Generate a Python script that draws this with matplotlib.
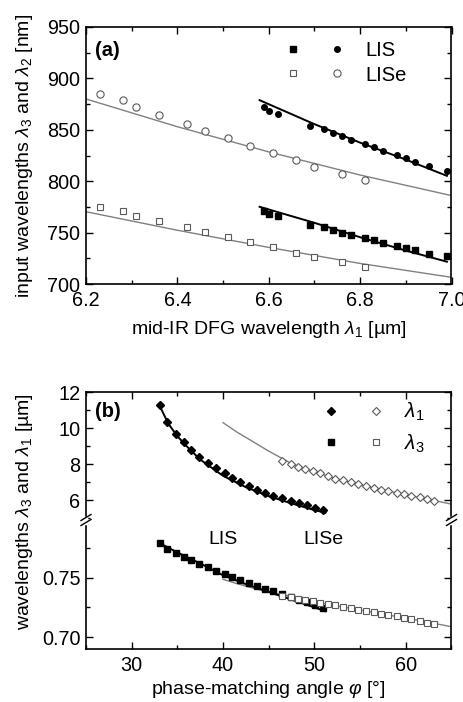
import numpy as np
import matplotlib
matplotlib.use("Agg")
import matplotlib.pyplot as plt
from matplotlib.ticker import MultipleLocator
from matplotlib.legend_handler import HandlerTuple
from matplotlib.lines import Line2D

plt.rcParams['font.family'] = ['Liberation Sans', 'DejaVu Sans']
plt.rcParams['mathtext.fontset'] = 'custom'
plt.rcParams['mathtext.rm'] = 'Liberation Sans'
plt.rcParams['mathtext.it'] = 'Liberation Sans:italic'
plt.rcParams['mathtext.bf'] = 'Liberation Sans:bold'

# ---- panel (a): input wavelengths vs mid-IR DFG wavelength ----
lis_x = [6.59, 6.60, 6.62, 6.69, 6.72, 6.74, 6.76, 6.78, 6.81, 6.83, 6.85,
         6.88, 6.90, 6.92, 6.95, 6.99]
lis_l2 = [872.0, 868.7, 865.5, 854.1, 850.3, 847.0, 843.5, 839.9, 836.0,
          833.1, 829.5, 825.6, 822.1, 818.5, 814.3, 810.4]
lis_l3 = [770.6, 767.7, 765.7, 757.6, 755.0, 752.5, 749.9, 747.6, 744.7,
          742.7, 740.2, 737.2, 735.0, 732.7, 729.5, 726.9]
lise_x = [6.23, 6.28, 6.31, 6.36, 6.42, 6.46, 6.51, 6.56, 6.61, 6.66, 6.70,
          6.76, 6.81]
lise_l2 = [885.2, 878.8, 872.3, 864.5, 856.1, 849.0, 841.8, 834.4, 827.9,
           820.8, 814.0, 807.2, 801.0]
lise_l3 = [775.1, 770.6, 766.1, 761.2, 755.7, 750.8, 745.3, 740.5, 735.6,
           730.4, 725.9, 721.4, 716.8]

# calculated curves
lis_fit_x = [6.58, 6.70, 6.80, 6.90, 6.99]
lis_fit_l2 = [878.8, 855.5, 837.5, 821.0, 805.2]
lis_fit_l3 = [775.1, 759.5, 745.5, 732.5, 721.7]
lise_fit_x = [6.2, 6.4, 6.6, 6.8, 7.0]
lise_fit_l2 = [880.0, 853.0, 828.5, 806.0, 786.0]
lise_fit_l3 = [770.3, 752.3, 735.6, 720.0, 706.5]

# ---- panel (b): wavelengths vs phase-matching angle ----
phi_lis = [33.1, 33.9, 34.8, 35.7, 36.5, 37.4, 38.3, 39.2, 40.2, 41.0, 41.9,
           42.8, 43.7, 44.6, 45.5, 46.5, 47.4, 48.3, 49.2, 50.1, 50.9]
lis_l1 = [11.30, 10.36, 9.69, 9.23, 8.81, 8.40, 8.05, 7.76, 7.48, 7.22, 7.00,
          6.78, 6.59, 6.41, 6.24, 6.10, 5.97, 5.84, 5.71, 5.58, 5.45]
lis_l3b = [0.7789, 0.7740, 0.7711, 0.7671, 0.7645, 0.7619, 0.7589, 0.7558,
           0.7529, 0.7503, 0.7477, 0.7454, 0.7428, 0.7407, 0.7387, 0.7361,
           0.7335, 0.7314, 0.7292, 0.7270, 0.7246]
phi_lise = [46.5, 47.4, 48.2, 49.0, 49.8, 50.6, 51.5, 52.3, 53.1, 54.0, 54.8,
            55.6, 56.5, 57.3, 58.1, 59.0, 59.8, 60.6, 61.5, 62.3, 63.1]
lise_l1 = [8.18, 8.03, 7.85, 7.72, 7.63, 7.48, 7.33, 7.20, 7.11, 7.00, 6.89,
           6.79, 6.70, 6.59, 6.50, 6.41, 6.32, 6.24, 6.15, 6.07, 5.95]
lise_l3b = [0.7347, 0.7335, 0.7324, 0.7312, 0.7301, 0.7289, 0.7277, 0.7266,
            0.7254, 0.7243, 0.7231, 0.7220, 0.7208, 0.7197, 0.7185, 0.7174,
            0.7162, 0.7151, 0.7136, 0.7122, 0.7108]

lis_fit_phi = [33.0, 34.0, 35.0, 36.0, 37.5, 40.0, 42.5, 45.0, 47.5, 50.0, 51.2]
lis_fit_l1 = [11.3, 10.25, 9.55, 9.0, 8.25, 7.35, 6.72, 6.22, 5.82, 5.45, 5.30]
lis_fit_l3b = [0.7795, 0.7752, 0.7712, 0.7674, 0.7620, 0.7520, 0.7445, 0.7380,
               0.7315, 0.7250, 0.7218]
lise_fit_phi = [40.0, 41.5, 43.0, 45.0, 47.5, 50.0, 52.5, 55.0, 57.5, 60.0,
                62.5, 65.0]
lise_fit_l1 = [10.3, 9.78, 9.33, 8.72, 8.03, 7.57, 7.17, 6.86, 6.57, 6.30,
               6.04, 5.78]
lise_fit_l3b = [0.7486, 0.7450, 0.7418, 0.7380, 0.7340, 0.7300, 0.7262, 0.7228,
                0.7193, 0.7160, 0.7125, 0.7087]

GRAY = '#808080'
OPEN = '#5a5a5a'
FS_TICK = 14.3
FS_LAB = 14

W, H = 464, 702
fig = plt.figure(figsize=(W / 100, H / 100), dpi=100)
L, R = 86 / W, 451.5 / W

ax_a = fig.add_axes([L, 1 - 284 / H, R - L, 257 / H])
ax_bt = fig.add_axes([L, 1 - 520 / H, R - L, 128 / H])
ax_bb = fig.add_axes([L, 1 - 649 / H, R - L, 129 / H])


def style(ax, top=True, bottom=True):
    ax.tick_params(which='both', direction='in', top=top, bottom=bottom,
                   right=True, left=True, labelsize=FS_TICK, width=1.0)
    ax.tick_params(which='major', length=5, pad=4)
    ax.tick_params(which='minor', length=3)
    ax.tick_params(axis='x', which='major', pad=5)
    for s in ax.spines.values():
        s.set_linewidth(1.2)


# ---------------- (a) ----------------
ax_a.plot(lise_fit_x, lise_fit_l2, '-', color=GRAY, lw=1.0)
ax_a.plot(lise_fit_x, lise_fit_l3, '-', color=GRAY, lw=1.0)
ax_a.plot(lis_fit_x, lis_fit_l2, '-', color='black', lw=1.4)
ax_a.plot(lis_fit_x, lis_fit_l3, '-', color='black', lw=1.4)
c_lis, = ax_a.plot(lis_x, lis_l2, 'o', color='black', ms=4)
s_lis, = ax_a.plot(lis_x, lis_l3, 's', color='black', ms=3.8)
c_lise, = ax_a.plot(lise_x, lise_l2, 'o', mfc='white', mec=OPEN, mew=0.8, ms=5.2)
s_lise, = ax_a.plot(lise_x, lise_l3, 's', mfc='white', mec=OPEN, mew=0.8, ms=4.6)

ax_a.set_xlim(6.2, 7.0)
ax_a.set_ylim(700, 950)
ax_a.xaxis.set_major_locator(MultipleLocator(0.2))
ax_a.xaxis.set_minor_locator(MultipleLocator(0.1))
ax_a.yaxis.set_major_locator(MultipleLocator(50))
ax_a.yaxis.set_minor_locator(MultipleLocator(25))
ax_a.xaxis.set_major_formatter(matplotlib.ticker.FormatStrFormatter('%.1f'))
style(ax_a)
ax_a.text(95 / W, 1 - 50 / H, '(a)', transform=fig.transFigure,
          fontsize=14.5, fontweight='bold', va='center', ha='left')

fig.text(268.5 / W, 1 - 329 / H, r'mid-IR DFG wavelength $\lambda_1$ [µm]',
         ha='center', va='center', fontsize=FS_LAB)
fig.text(25 / W, 1 - 156 / H, r'input wavelengths $\lambda_3$ and $\lambda_2$ [nm]',
         ha='center', va='center', rotation=90, fontsize=FS_LAB)

fs_leg = 14.5
leg_a = ax_a.legend([(s_lis, c_lis), (s_lise, c_lise)], ['LIS', 'LISe'],
                    handler_map={tuple: HandlerTuple(ndivide=None, pad=0)},
                    loc='center left', bbox_to_anchor=(270.5 / W, 1 - 62.8 / H),
                    bbox_transform=fig.transFigure, frameon=False,
                    borderpad=0, borderaxespad=0, fontsize=fs_leg,
                    handlelength=44.3 * 2 / (fs_leg * 100 / 72),
                    handletextpad=0.3, labelspacing=0.27)

# ---------------- (b) ----------------
for ax in (ax_bt, ax_bb):
    ax.set_xlim(25, 65)
    ax.xaxis.set_major_locator(MultipleLocator(10))
    ax.xaxis.set_minor_locator(MultipleLocator(5))

ax_bt.plot(lise_fit_phi, lise_fit_l1, '-', color=GRAY, lw=1.0)
ax_bt.plot(lis_fit_phi, lis_fit_l1, '-', color='black', lw=1.4)
d_lis, = ax_bt.plot(phi_lis, lis_l1, 'D', color='black', ms=3.6)
d_lise, = ax_bt.plot(phi_lise, lise_l1, 'D', mfc='white', mec=OPEN, mew=0.8, ms=4.2)

ax_bb.plot(lise_fit_phi, lise_fit_l3b, '-', color=GRAY, lw=1.0)
ax_bb.plot(lis_fit_phi, lis_fit_l3b, '-', color='black', lw=1.4)
q_lis, = ax_bb.plot(phi_lis, lis_l3b, 's', color='black', ms=3.8)
q_lise, = ax_bb.plot(phi_lise, lise_l3b, 's', mfc='white', mec=OPEN, mew=0.8, ms=4.2)

ax_bt.set_ylim(4.9, 12)
ax_bt.yaxis.set_major_locator(MultipleLocator(2))
ax_bt.yaxis.set_minor_locator(MultipleLocator(1))
ax_bb.set_ylim(0.690, 0.7985)
ax_bb.yaxis.set_major_locator(MultipleLocator(0.05))
ax_bb.yaxis.set_minor_locator(MultipleLocator(0.025))
ax_bb.yaxis.set_major_formatter(matplotlib.ticker.FormatStrFormatter('%.2f'))

style(ax_bt, top=True, bottom=False)
style(ax_bb, top=False, bottom=True)
ax_bt.spines['bottom'].set_visible(False)
ax_bb.spines['top'].set_visible(False)
ax_bt.tick_params(labelbottom=False)

ax_bb.text(40, 0.7825, 'LIS', ha='center', va='center', fontsize=14)
ax_bb.text(51, 0.7825, 'LISe', ha='center', va='center', fontsize=14)
ax_bt.text(95 / W, 1 - 411.7 / H, '(b)', transform=fig.transFigure,
           fontsize=14.5, fontweight='bold', va='center', ha='left')

fig.text(268.5 / W, 1 - 689 / H, r'phase-matching angle $\varphi$ [°]',
         ha='center', va='center', fontsize=FS_LAB)
fig.text(25 / W, 1 - 512 / H, r'wavelengths $\lambda_3$ and $\lambda_1$ [µm]',
         ha='center', va='center', rotation=90, fontsize=FS_LAB)

fs_leg_b = 15
leg_b = ax_bt.legend([(d_lis, d_lise), (q_lis, q_lise)],
                     [r'$\lambda_1$', r'$\lambda_3$'],
                     handler_map={tuple: HandlerTuple(ndivide=None, pad=0)},
                     loc='center left', bbox_to_anchor=(308.7 / W, 1 - 428 / H),
                     bbox_transform=fig.transFigure, frameon=False,
                     borderpad=0, borderaxespad=0, fontsize=fs_leg_b,
                     handlelength=44.7 * 2 / (fs_leg_b * 100 / 72),
                     handletextpad=0.3, labelspacing=0.45)

# axis break marks on both sides
yb = 1 - 520 / H
for xe in (L, R):
    fig.add_artist(Line2D([xe, xe], [yb - 2.5 / H, yb + 2.5 / H],
                          transform=fig.transFigure, color='white', lw=2.5))
    for dy in (-2.5, 2.5):
        fig.add_artist(Line2D([xe - 5 / W, xe + 5 / W],
                              [yb + (dy - 3) / H, yb + (dy + 3) / H],
                              transform=fig.transFigure, color='black', lw=1.0))

fig.savefig('out.png', dpi=100)
